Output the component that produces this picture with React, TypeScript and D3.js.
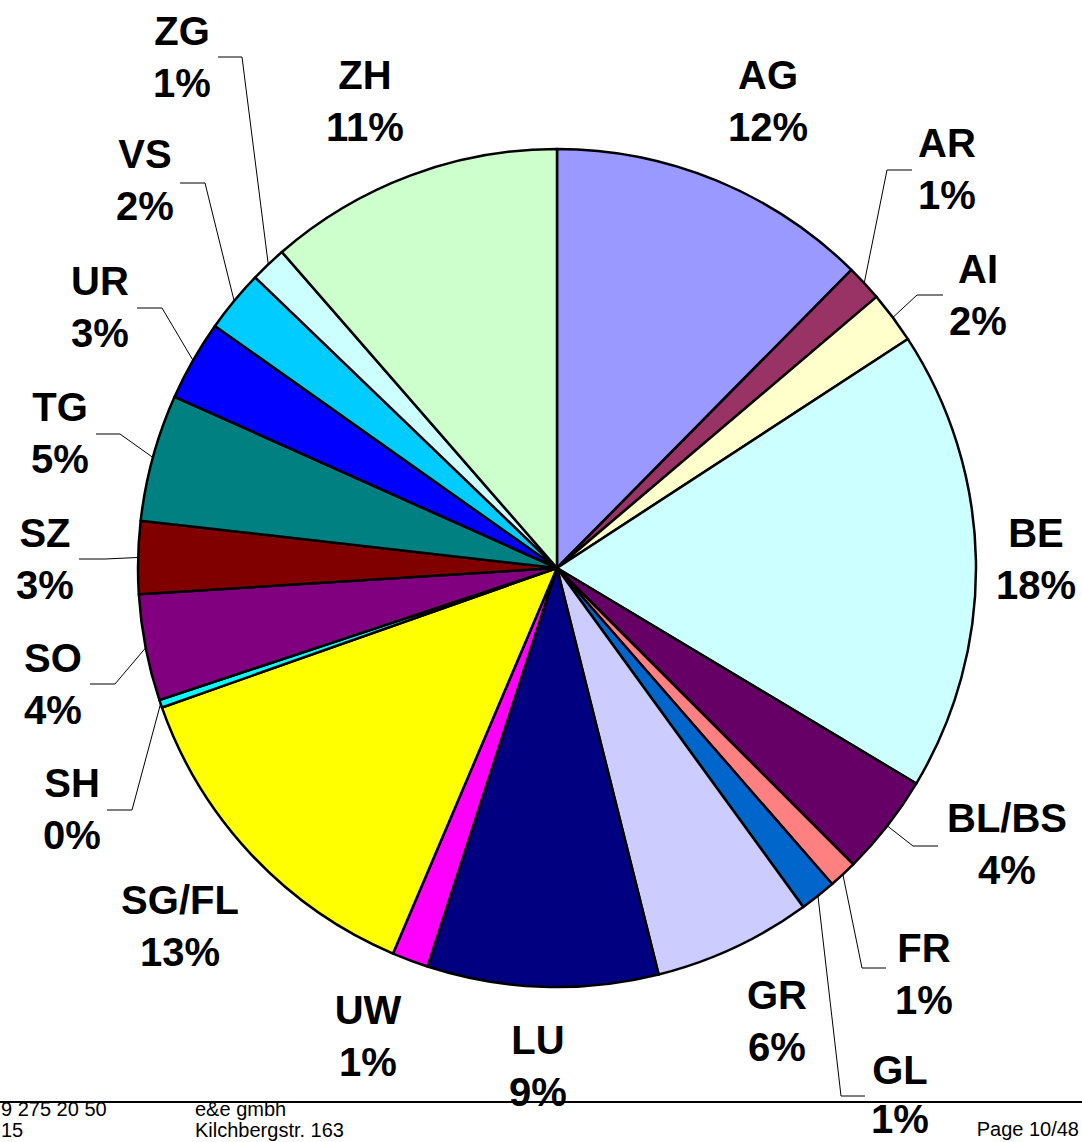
import React, { useRef, useEffect } from "react";
import * as d3 from "d3";

// cantons in drawing order (clockwise from 12 o'clock)
const cantons = ["AG", "AR", "AI", "BE", "BL/BS", "FR", "GL", "GR", "LU", "UW", "SG/FL", "SH", "SO", "SZ", "TG", "UR", "VS", "ZG", "ZH"];
const shares = [12.4, 1.4, 2.0, 17.8, 3.9, 1.1, 1.4, 6.1, 8.9, 1.4, 13.2, 0.3, 4.1, 2.8, 4.9, 3.1, 2.4, 1.4, 11.4];
const colors = ["#9999FF", "#993366", "#FFFFCC", "#CCFFFF", "#660066", "#FF8080", "#0066CC", "#CCCCFF", "#000080", "#FF00FF", "#FFFF00", "#00FFFF", "#800080", "#800000", "#008080", "#0000FF", "#00CCFF", "#CCFFFF", "#CCFFCC"];

const footerLeft = ["9 275 20 50", "15"];
const footerMid = ["e&e gmbh", "Kilchbergstr. 163"];
const pageLabel = "Page 10/48";

// label placement: text centre x, first baseline y, optional leader (elbow + end)
const labelLayout: Record<string, { x: number; y: number; gap?: number; leader?: [number, number][] }> = {
  AG: { x: 768, y: 89 },
  AR: { x: 947, y: 157, leader: [[887, 170], [912, 170]] },
  AI: { x: 978, y: 283, leader: [[917, 295], [943, 295]] },
  BE: { x: 1036, y: 547 },
  "BL/BS": { x: 1007, y: 832, leader: [[913, 846], [938, 846]] },
  FR: { x: 924, y: 962, leader: [[862, 968], [886, 968]] },
  GL: { x: 900, y: 1084, gap: 49, leader: [[841, 1096], [865, 1096]] },
  GR: { x: 777, y: 1009 },
  LU: { x: 538, y: 1054 },
  UW: { x: 368, y: 1024 },
  "SG/FL": { x: 180, y: 914 },
  SH: { x: 72, y: 797, leader: [[132, 810], [107, 810]] },
  SO: { x: 53, y: 672, leader: [[115, 684], [90, 684]] },
  SZ: { x: 45, y: 547, leader: [[105, 559], [79, 559]] },
  TG: { x: 60, y: 421, leader: [[120, 434], [96, 434]] },
  UR: { x: 100, y: 295, leader: [[162, 308], [137, 308]] },
  VS: { x: 145, y: 168, leader: [[205, 183], [180, 183]] },
  ZG: { x: 182, y: 45, leader: [[242, 57], [218, 57]] },
  ZH: { x: 365, y: 89 },
};

const App: React.FC = () => {
  const svgRef = useRef<SVGSVGElement>(null);

  useEffect(() => {
    if (!svgRef.current) return;
    const svg = d3.select(svgRef.current);
    svg.selectAll("*").remove();

    const width = 1082;
    const height = 1142;
    const cx = 557;
    const cy = 568;
    const radius = 419;

    svg.attr("width", width).attr("height", height);

    const data = cantons.map((name, i) => ({ name, value: shares[i], color: colors[i] }));
    const total = d3.sum(shares);

    const pie = d3
      .pie<{ name: string; value: number; color: string }>()
      .sort(null)
      .value((d) => d.value);
    const arcs = pie(data);

    const arc = d3
      .arc<d3.PieArcDatum<{ name: string; value: number; color: string }>>()
      .innerRadius(0)
      .outerRadius(radius);
    const edgeArc = d3
      .arc<d3.PieArcDatum<{ name: string; value: number; color: string }>>()
      .innerRadius(radius)
      .outerRadius(radius);

    const g = svg.append("g").attr("transform", `translate(${cx},${cy})`);

    g.selectAll("path")
      .data(arcs)
      .join("path")
      .attr("d", arc)
      .attr("fill", (d) => d.data.color)
      .attr("stroke", "#000")
      .attr("stroke-width", 2.5)
      .attr("stroke-linejoin", "round");

    // leader lines
    const line = d3.line();
    arcs.forEach((d) => {
      const lay = labelLayout[d.data.name];
      if (!lay.leader) return;
      const [ex, ey] = edgeArc.centroid(d);
      const pts: [number, number][] = [[ex + cx, ey + cy], ...lay.leader];
      svg.append("path")
        .attr("d", line(pts))
        .attr("fill", "none")
        .attr("stroke", "#000")
        .attr("stroke-width", 1);
    });

    // labels
    arcs.forEach((d) => {
      const lay = labelLayout[d.data.name];
      const t = svg.append("text")
        .attr("text-anchor", "middle")
        .attr("font-family", "'Liberation Sans', Arial, sans-serif")
        .attr("font-weight", "bold")
        .attr("font-size", 40)
        .attr("fill", "#000");
      t.append("tspan").attr("x", lay.x).attr("y", lay.y).text(d.data.name);
      t.append("tspan")
        .attr("x", lay.x)
        .attr("y", lay.y + (lay.gap ?? 52))
        .text(`${Math.round((d.data.value / total) * 100)}%`);
    });

    // footer
    svg.append("line")
      .attr("x1", 0)
      .attr("x2", width)
      .attr("y1", 1102)
      .attr("y2", 1102)
      .attr("stroke", "#000")
      .attr("stroke-width", 2);

    const foot = (x: number, lines: string[]) => {
      lines.forEach((s, i) => {
        svg.append("text")
          .attr("x", x)
          .attr("y", 1116 + i * 21)
          .attr("font-family", "'Liberation Sans', Arial, sans-serif")
          .attr("font-size", 20)
          .attr("fill", "#000")
          .text(s);
      });
    };
    foot(1, footerLeft);
    foot(195, footerMid);

    svg.append("text")
      .attr("x", 1079)
      .attr("y", 1136)
      .attr("text-anchor", "end")
      .attr("font-family", "'Liberation Sans', Arial, sans-serif")
      .attr("font-size", 20)
      .attr("fill", "#000")
      .text(pageLabel);

    return () => {
      svg.selectAll("*").remove();
    };
  }, []);

  return <svg ref={svgRef} style={{ position: "absolute", left: 0, top: 0 }}></svg>;
};

export default App;
